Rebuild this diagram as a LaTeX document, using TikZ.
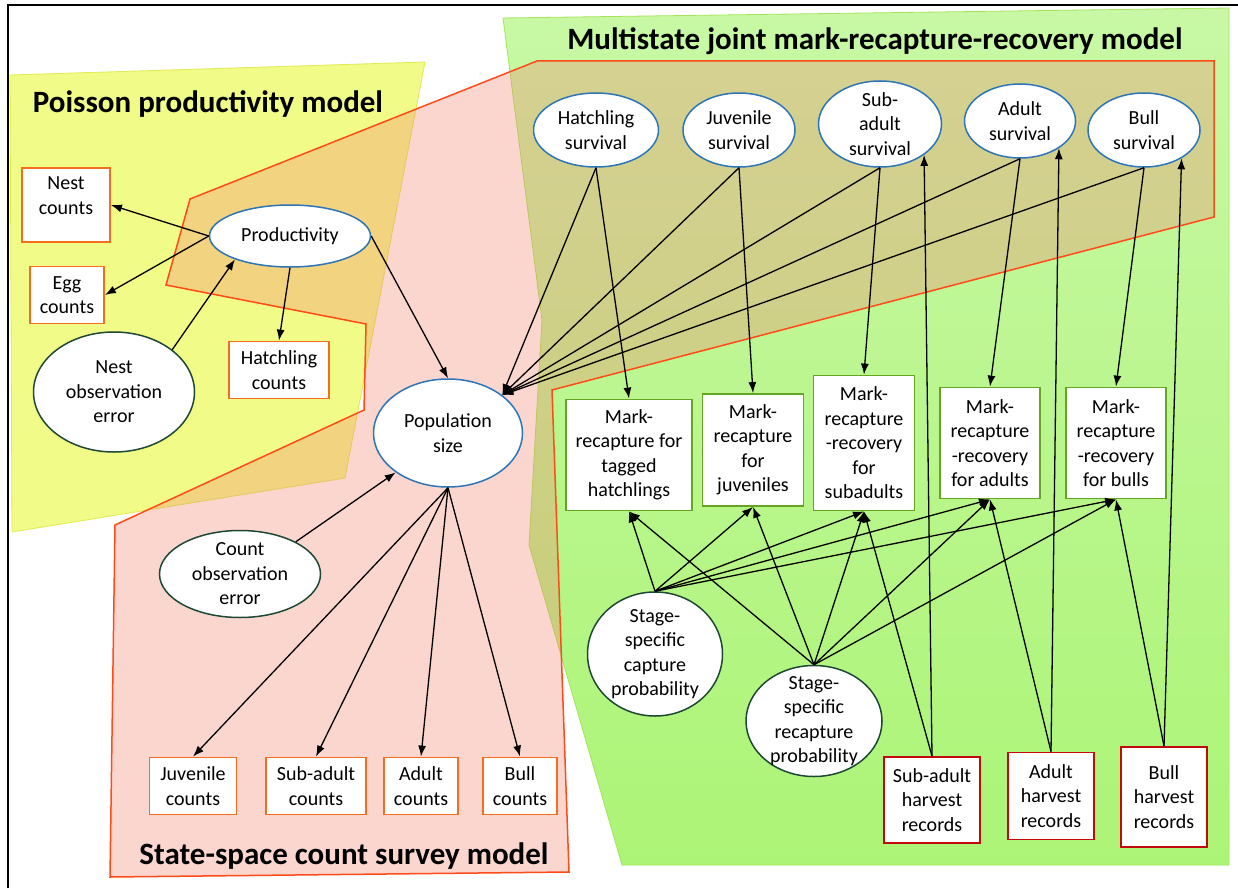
\documentclass[tikz,border=0pt]{standalone}
\usepackage{fontspec}
\setmainfont{Carlito}
\usetikzlibrary{shapes,positioning,arrows.meta}

\definecolor{parblue}{RGB}{46,117,182}
\definecolor{errgreen}{RGB}{30,72,52}
\definecolor{cntorange}{RGB}{245,110,30}
\definecolor{mrgreen}{RGB}{100,165,35}
\definecolor{hvred}{RGB}{195,10,10}
\definecolor{outred}{RGB}{255,75,25}
\definecolor{polyyellow}{RGB}{241,251,135}
\definecolor{edgeyellow}{RGB}{225,235,80}
\definecolor{greentop}{RGB}{200,248,165}
\definecolor{greenbot}{RGB}{172,244,118}
\definecolor{edgegreen}{RGB}{165,228,90}
\definecolor{pinkfill}{RGB}{241,138,116}

\begin{document}
\begin{tikzpicture}[x=1pt, y=-1pt, >={Latex[length=11pt,width=8pt]},
      every node/.append style={font=\fontsize{20}{24.5}\selectfont, align=center},
      param/.style={ellipse, draw=parblue, line width=1.5pt, fill=white, inner sep=0pt},
      error/.style={ellipse, draw=errgreen, line width=1.5pt, fill=white, inner sep=0pt},
      counts/.style={rectangle, draw=cntorange, line width=1.8pt, fill=white, inner sep=0pt},
      mr/.style={rectangle, draw=mrgreen, line width=1.8pt, fill=white, inner sep=0pt},
      harvest/.style={rectangle, draw=hvred, line width=1.8pt, fill=white, inner sep=0pt},
      title/.style={font=\fontsize{31}{36}\selectfont\bfseries},
      link/.style={->, line width=1.3pt}]
    \useasboundingbox (0,0) rectangle (1238,888);
    \path[fill=polyyellow, draw=edgeyellow, line width=0.8pt]
      (10,75) -- (425,62) -- (345,478) -- (12,532) -- cycle;
    \path[top color=greentop, bottom color=greenbot, draw=edgegreen, line width=0.8pt]
      (503,18) -- (1229,8) -- (1229,865) -- (622,865) -- (529,545) -- (542,320) -- cycle;
    \path[fill=pinkfill, fill opacity=0.35, draw=outred, line width=1.5pt]
      (110,877) -- (115,525) -- (364,410) -- (366,324) -- (166,285) -- (190,199)
      -- (537,61) -- (1214,61) -- (1214,217) -- (552,390) -- (569,872) -- cycle;
    \draw[line width=2pt] (8,888) -- (8,5) -- (1238,5);

    \node[title] (PoissonTitle) at (208,104) {Poisson productivity model};
    \node[title] (MultiTitle) at (875,41) {Multistate joint mark-recapture-recovery model};
    \node[title] (CountTitle) at (344,856) {State-space count survey model};

    \node[param, minimum width=161pt, minimum height=62pt] (Productivity) at (290,236) {Productivity};
    \node[param, minimum width=149pt, minimum height=108pt] (Population) at (448,433) {Population\\size};
    \node[param, minimum width=125pt, minimum height=74pt] (HatchSurv) at (596,130) {Hatchling\\survival};
    \node[param, minimum width=112pt, minimum height=74pt] (JuvSurv) at (739,130) {Juvenile\\survival};
    \node[param, minimum width=123pt, minimum height=86pt, inner ysep=-4pt] (SubSurv) at (880,124) {Sub-\\adult\\survival};
    \node[param, minimum width=111pt, minimum height=74pt] (AdultSurv) at (1020,121) {Adult\\survival};
    \node[param, minimum width=112pt, minimum height=74pt] (BullSurv) at (1144,130) {Bull\\survival};

    \node[error, minimum width=161pt, minimum height=120pt] (NestError) at (114,392) {Nest\\observation\\error};
    \node[error, minimum width=161pt, minimum height=87pt, inner ysep=-4pt] (CountError) at (240,574) {Count\\observation\\error};
    \node[error, minimum width=135pt, minimum height=124pt, inner ysep=-3pt] (CapProb) at (655,654)
      {Stage-\\specific\\capture\\probability};
    \node[error, minimum width=136pt, minimum height=111pt, inner ysep=-7pt] (RecProb) at (814,721)
      {Stage-\\specific\\recapture\\probability};

    \node[counts, minimum width=88pt, minimum height=74pt, text depth=19pt] (NestCounts) at (66,205) {Nest\\counts};
    \node[counts, minimum width=74pt, minimum height=57pt] (EggCounts) at (67,295) {Egg\\counts};
    \node[counts, minimum width=100pt, minimum height=57pt] (HatchCounts) at (279,370) {Hatchling\\counts};
    \node[counts, minimum width=87pt, minimum height=57pt] (JuvCounts) at (193,786) {Juvenile\\counts};
    \node[counts, minimum width=100pt, minimum height=57pt] (SubCounts) at (316,786) {Sub-adult\\counts};
    \node[counts, minimum width=74pt, minimum height=57pt] (AdultCounts) at (421,786) {Adult\\counts};
    \node[counts, minimum width=74pt, minimum height=57pt] (BullCounts) at (520,786) {Bull\\counts};

    \node[mr, minimum width=126pt, minimum height=111pt] (MRHatch) at (629,455) {Mark-\\recapture for\\tagged\\hatchlings};
    \node[mr, minimum width=101pt, minimum height=112pt] (MRJuv) at (753,450) {Mark-\\recapture\\for\\juveniles};
    \node[mr, minimum width=101pt, minimum height=135pt] (MRSub) at (864,443) {Mark-\\recapture\\-recovery\\for\\subadults};
    \node[mr, minimum width=100pt, minimum height=111pt] (MRAdult) at (990,443) {Mark-\\recapture\\-recovery\\for adults};
    \node[mr, minimum width=100pt, minimum height=111pt] (MRBull) at (1116,443) {Mark-\\recapture\\-recovery\\for bulls};

    \node[harvest, minimum width=96pt, minimum height=86pt] (SubHarvest) at (932,800) {Sub-adult\\harvest\\records};
    \node[harvest, minimum width=86pt, minimum height=87pt] (AdultHarvest) at (1051,796) {Adult\\harvest\\records};
    \node[harvest, minimum width=86pt, minimum height=100pt] (BullHarvest) at (1164,797) {Bull\\harvest\\records};

    \draw[link] (Productivity.west) -- (NestCounts.east);
    \draw[link] (Productivity.west) -- (EggCounts.east);
    \draw[link] (Productivity.south) -- (HatchCounts.north);
    \draw[link] (NestError.36) -- (Productivity.203);
    \draw[link] (Productivity.east) -- (Population.north);
    \draw[link] (CountError.30) -- (Population.217);
    \foreach \c in {JuvCounts,SubCounts,AdultCounts,BullCounts}
      \draw[link] (Population.south) -- (\c.north);
    \foreach \s/\m in {HatchSurv/MRHatch,JuvSurv/MRJuv,SubSurv/MRSub,AdultSurv/MRAdult,BullSurv/MRBull} {
      \draw[link] (\s.south) -- (Population.35);
      \draw[link] (\s.south) -- (\m.north);
    }
    \foreach \m in {MRHatch,MRJuv,MRSub,MRAdult,MRBull} {
      \draw[link] (CapProb.north) -- (\m.south);
      \draw[link] (RecProb.north) -- (\m.south);
    }
    \draw[link] (SubHarvest.north) -- (SubSurv.-35);
    \draw[link] (SubHarvest.north) -- (MRSub.south);
    \draw[link] (AdultHarvest.north) -- (AdultSurv.-35);
    \draw[link] (AdultHarvest.north) -- (MRAdult.south);
    \draw[link] (BullHarvest.north) -- (BullSurv.-37);
    \draw[link] (BullHarvest.north) -- (MRBull.south);
\end{tikzpicture}
\end{document}
